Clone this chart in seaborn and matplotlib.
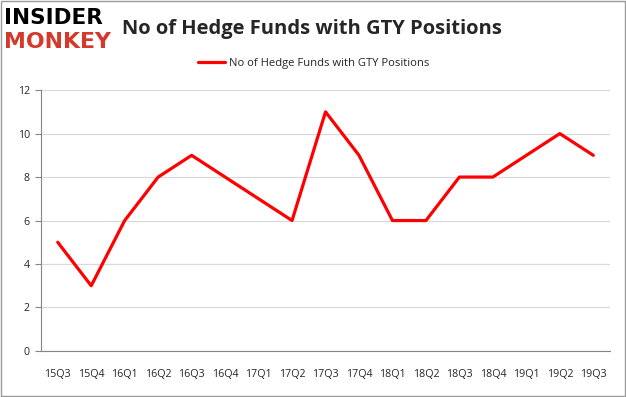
import matplotlib.pyplot as plt
import seaborn as sns
import pandas as pd

quarters = ['15Q3', '15Q4', '16Q1', '16Q2', '16Q3', '16Q4', '17Q1', '17Q2', '17Q3',
            '17Q4', '18Q1', '18Q2', '18Q3', '18Q4', '19Q1', '19Q2', '19Q3']
funds = [5, 3, 6, 8, 9, 8, 7, 6, 11, 9, 6, 6, 8, 8, 9, 10, 9]
series_name = 'No of Hedge Funds with GTY Positions'

df = pd.DataFrame({'quarter': quarters, 'funds': funds})
df['pos'] = range(len(df))

sns.set_style('white')
plt.rcParams['font.family'] = ['Open Sans', 'DejaVu Sans']

fig = plt.figure(figsize=(6.26, 3.97), dpi=100)
ax = fig.add_axes([0.0655, 0.116, 0.909, 0.657])

sns.lineplot(data=df, x='pos', y='funds', color='#ff0000', linewidth=2.3,
             label=series_name, ax=ax)

ax.set_xlim(-0.5, len(quarters) - 0.5)
ax.set_ylim(0, 12)
ax.set_yticks(range(0, 13, 2))
ax.yaxis.grid(True, color='#d9d9d9', linewidth=0.9)
ax.set_axisbelow(True)
ax.set_xticks(df['pos'])
ax.set_xticklabels(quarters, fontsize=7.7)
ax.set_xticks([i - 0.5 for i in range(len(quarters) + 1)], minor=True)
ax.tick_params(axis='x', which='major', length=0, pad=13)
ax.tick_params(axis='x', which='minor', length=4, color='#868686', direction='out')
ax.tick_params(axis='y', length=4, color='#868686', labelsize=7.7, direction='out', pad=4)
ax.tick_params(axis='y', left=True)
ax.set_xlabel('')
ax.set_ylabel('')
for s in ['top', 'right']:
    ax.spines[s].set_visible(False)
ax.spines['left'].set_color('#868686')
ax.spines['bottom'].set_color('#868686')

ax.legend(loc='center', bbox_to_anchor=(0.501, 0.841), bbox_transform=fig.transFigure,
          frameon=False, fontsize=8.1, handlelength=2.4, handletextpad=0.3)

fig.text(0.4976, 0.928, series_name, ha='center', va='center',
         fontsize=14.5, fontweight='bold')
fig.text(0.006, 0.955, 'INSIDER', ha='left', va='center', fontsize=15.5,
         fontweight='bold', color='black', family='DejaVu Sans')
fig.text(0.006, 0.895, 'MONKEY', ha='left', va='center', fontsize=15.8,
         fontweight='bold', color='#d33a2c', family='DejaVu Sans')

fig.patches.append(plt.Rectangle((0.001, 0.002), 0.997, 0.995, transform=fig.transFigure,
                                 fill=False, edgecolor='#9a9a9a', linewidth=1))

fig.savefig('out.png', dpi=100)
